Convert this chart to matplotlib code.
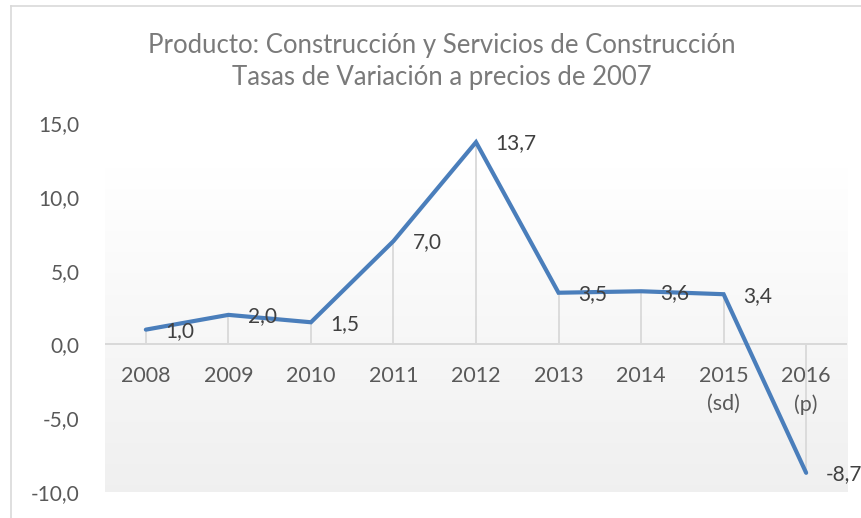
import matplotlib
matplotlib.use("Agg")
import matplotlib.pyplot as plt
import numpy as np
from matplotlib.lines import Line2D

plt.rcParams['font.family'] = ['Lato', 'DejaVu Sans']

categories = ["2008", "2009", "2010", "2011", "2012", "2013", "2014", "2015\n(sd)", "2016\n(p)"]
values = [1.0, 2.0, 1.5, 7.0, 13.7, 3.5, 3.6, 3.4, -8.7]
y_ticks = [-10, -5, 0, 5, 10, 15]
title = "Producto: Construcción y Servicios de Construcción\nTasas de Variación a precios de 2007"

W, H = 862, 518
fig = plt.figure(figsize=(W / 100, H / 100), dpi=100)
fig.patch.set_facecolor("white")

left, right = 104.6 / W, 847.4 / W
bottom, top = (H - 492) / H, (H - 123) / H
ax = fig.add_axes([left, bottom, right - left, top - bottom])

n = len(categories)
x = np.arange(n)

# gradient background
grad = np.linspace(1.0, 0.0, 256).reshape(-1, 1)
c_top = np.array([1.0, 1.0, 1.0])
c_bot = np.array([0.94, 0.94, 0.94])
img = c_bot + (c_top - c_bot) * grad[..., None] * np.ones((1, 2, 1))
ax.imshow(img, extent=[-0.5, n - 0.5, -10, 12], aspect='auto', zorder=0,
          interpolation='bilinear')
ax.set_xlim(-0.5, n - 0.5)
ax.set_ylim(-10, 15)

for s in ax.spines.values():
    s.set_visible(False)

# zero axis line
ax.axhline(0, color="#D9D9D9", lw=1.4, zorder=1)

# drop lines
ax.vlines(x, 0, values, color="#D9D9D9", lw=1.3, zorder=1)

# main line
ax.plot(x, values, color="#4A7EBB", lw=3.0, solid_capstyle='round',
        solid_joinstyle='miter', zorder=3)

# data labels
for xi, v in zip(x, values):
    ax.annotate(f"{v:.1f}".replace(".", ","), (xi, v), xytext=(14, -1),
                textcoords="offset points", ha="left", va="center",
                fontsize=15, color="#404040", zorder=4, annotation_clip=False)

# category labels below zero line
ax.set_xticks([])
for xi, c in zip(x, categories):
    ax.annotate(c, (xi, 0), xytext=(0, -15.5), textcoords="offset points",
                ha="center", va="top", fontsize=15.5, color="#595959",
                linespacing=1.5, zorder=4)

# y ticks
ax.set_yticks(y_ticks)
ax.set_yticklabels([f"{t:.1f}".replace(".", ",") for t in y_ticks])
ax.tick_params(axis='y', length=0, pad=18, labelsize=15, labelcolor="#595959")

# title
fig.text(442 / W, 1 - 61 / H, title, ha="center", va="center", fontsize=18.5,
         color="#7A7A7A", linespacing=1.35)

# chart border (left and top visible)
fig.add_artist(Line2D([11 / W, 11 / W], [0, 1 - 6 / H], transform=fig.transFigure,
                      color="#D9D9D9", lw=1.2))
fig.add_artist(Line2D([11 / W, 1], [1 - 6 / H, 1 - 6 / H], transform=fig.transFigure,
                      color="#D9D9D9", lw=1.2))

fig.savefig("out.png", dpi=100, facecolor="white")
